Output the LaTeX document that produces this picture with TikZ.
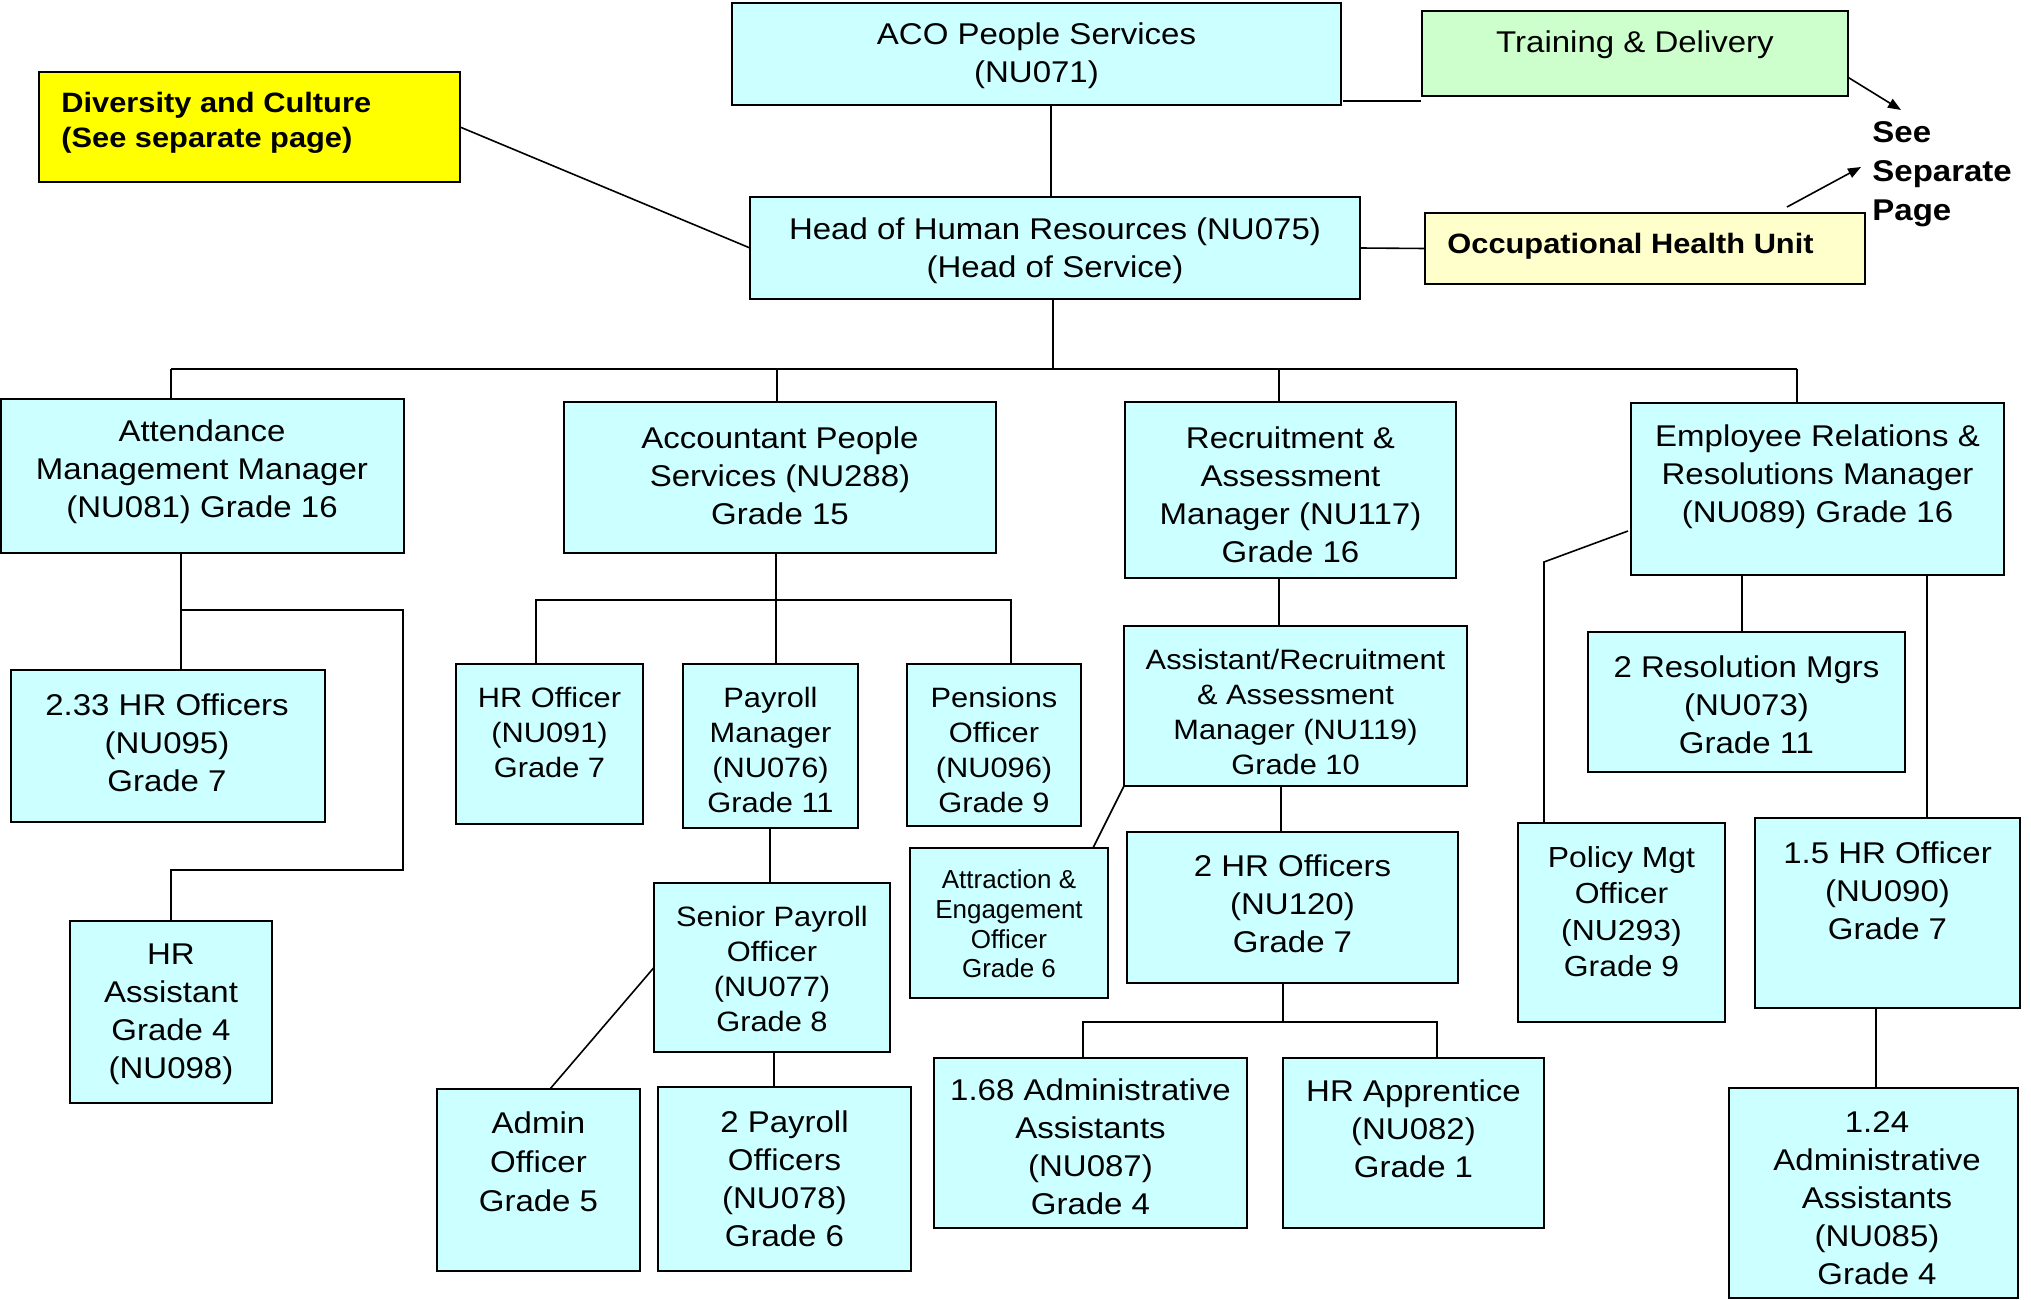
\documentclass[tikz,border=0pt]{standalone}
\usepackage{fontspec}
\setmainfont{Liberation Sans}[FakeStretch=1.1]
\newfontfamily\plainsans{Liberation Sans}
\usetikzlibrary{calc,arrows.meta}
\definecolor{cyanbox}{HTML}{CCFFFF}
\definecolor{greenbox}{HTML}{CCFFCC}
\definecolor{yelbox}{HTML}{FFFF00}
\definecolor{lyelbox}{HTML}{FFFFCC}
\tikzset{
  box/.style={draw=black, line width=1.1pt, fill=cyanbox, inner sep=0pt, outer sep=0pt},
  txt/.style={align=center, inner sep=0pt, font=\fontsize{15}{19}\selectfont},
  txts/.style={align=center, inner sep=0pt, font=\fontsize{14}{17.5}\selectfont},
  txtb/.style={align=left, inner sep=0pt, anchor=west, font=\bfseries\fontsize{14}{17.5}\selectfont},
  conn/.style={draw=black, line width=0.8pt},
  arr/.style={conn, -{Triangle[length=6.5pt,width=5pt]}},
}
\newcommand{\pbox}[6][]{%
  \node[box, #1, minimum width={(#5-#3)*0.5pt}, minimum height={(#6-#4)*0.5pt}] (#2) at ({(#3+#5)/2},{(#4+#6)/2}) {};}
\begin{document}
\begin{tikzpicture}[x=0.5pt, y=-0.5pt]
\fill[white] (0,0) rectangle (2031,1300);
\useasboundingbox (0,0) rectangle (2031,1300);

% ---------- boxes ----------
\pbox{aco}{732}{3}{1341}{105}
\pbox[fill=greenbox]{train}{1422}{11}{1848}{96}
\pbox[fill=yelbox]{div}{39}{72}{460}{182}
\pbox{head}{750}{197}{1360}{299}
\pbox[fill=lyelbox]{ohu}{1425}{213}{1865}{284}

\pbox{att}{1}{399}{404}{553}
\pbox{acc}{564}{402}{996}{553}
\pbox{rec}{1125}{402}{1456}{578}
\pbox{er}{1631}{403}{2004}{575}

\pbox{hro233}{11}{670}{325}{822}
\pbox{hra}{70}{921}{272}{1103}

\pbox{hro}{456}{664}{643}{824}
\pbox{pm}{683}{664}{858}{828}
\pbox{pens}{907}{664}{1081}{826}
\pbox{spo}{654}{883}{890}{1052}
\pbox{admin}{437}{1089}{640}{1271}
\pbox{pay2}{658}{1087}{911}{1271}

\pbox{arm}{1124}{626}{1467}{786}
\pbox{attr}{910}{848}{1108}{998}
\pbox{hro2}{1127}{832}{1458}{983}
\pbox{adm168}{934}{1058}{1247}{1228}
\pbox{appr}{1283}{1058}{1544}{1228}

\pbox{res2}{1588}{632}{1905}{772}
\pbox{pmo}{1518}{823}{1725}{1022}
\pbox{hro15}{1755}{818}{2020}{1008}
\pbox{adm124}{1729}{1088}{2018}{1298}

% ---------- texts ----------
\node[txt] (aco-t) at (1036.5,55.5) {ACO People Services\\(NU071)};
\node[txt] (train-t) at (1635,44.5) {Training \& Delivery};
\node[txtb] (div-t) at (61,123) {Diversity and Culture\\(See separate page)};
\node[txt] (head-t) at (1055,250.5) {Head of Human Resources (NU075)\\(Head of Service)};
\node[txtb] (ohu-t) at (1447,246.5) {Occupational Health Unit};
\node[txtb, font=\bfseries\fontsize{15}{19.5}\selectfont] (see-t) at (1872,174) {See\\Separate\\Page};

\node[txt] (att-t) at (202,472) {Attendance\\Management Manager\\(NU081) Grade 16};
\node[txt] (acc-t) at (780,475.5) {Accountant People\\Services (NU288)\\Grade 15};
\node[txt] (rec-t) at (1290.5,494.6) {Recruitment \&\\Assessment\\Manager (NU117)\\Grade 16};
\node[txt] (er-t) at (1817.5,477) {Employee Relations \&\\Resolutions Manager\\(NU089) Grade 16};

\node[txt] (hro233-t) at (167,743) {2.33 HR Officers\\(NU095)\\Grade 7};
\node[txt] (hra-t) at (171,1014) {HR\\Assistant\\Grade 4\\(NU098)};

\node[txts] (hro-t) at (549.5,732) {HR Officer\\(NU091)\\Grade 7};
\node[txts] (pm-t) at (770.5,749.7) {Payroll\\Manager\\(NU076)\\Grade 11};
\node[txts] (pens-t) at (994,749.7) {Pensions\\Officer\\(NU096)\\Grade 9};
\node[txts] (spo-t) at (772,968.7) {Senior Payroll\\Officer\\(NU077)\\Grade 8};
\node[txt, font=\fontsize{15}{19.5}\selectfont] (admin-t) at (538.5,1162) {Admin\\Officer\\Grade 5};
\node[txt] (pay2-t) at (784.5,1178.5) {2 Payroll\\Officers\\(NU078)\\Grade 6};

\node[txts] (arm-t) at (1295.5,712) {Assistant/Recruitment\\\& Assessment\\Manager (NU119)\\Grade 10};
\node[txt, font=\plainsans\fontsize{13}{14.8}\selectfont] (attr-t) at (1009,924) {Attraction \&\\Engagement\\Officer\\Grade 6};
\node[txt] (hro2-t) at (1292.5,904) {2 HR Officers\\(NU120)\\Grade 7};
\node[txt] (adm168-t) at (1090.5,1147) {1.68 Administrative\\Assistants\\(NU087)\\Grade 4};
\node[txt] (appr-t) at (1413.5,1128.6) {HR Apprentice\\(NU082)\\Grade 1};

\node[txt] (res2-t) at (1746.5,704.6) {2 Resolution Mgrs\\(NU073)\\Grade 11};
\node[txt, font=\fontsize{14.5}{18.3}\selectfont] (pmo-t) at (1621.5,911.7) {Policy Mgt\\Officer\\(NU293)\\Grade 9};
\node[txt] (hro15-t) at (1887.5,891) {1.5 HR Officer\\(NU090)\\Grade 7};
\node[txt] (adm124-t) at (1877,1197.8) {1.24\\Administrative\\Assistants\\(NU085)\\Grade 4};

% ---------- connectors: top ----------
\draw[conn] ($(aco.south east)+(2,-4)$) -- ($(train.south west)+(-1,5)$);
\coordinate (xA) at (1051,150);
\draw[conn] (xA |- aco.south) -- (xA |- head.north);
\draw[conn] (div.east) -- (head.west);
\draw[conn] (head.east) -- (ohu.west);
\coordinate (seeT) at (1901,110);
\coordinate (seeS) at (1861,167);
\draw[arr] ($(train.north east)!0.78!(train.south east)$) -- (seeT);
\draw[arr] ($(ohu.north east)+(-78,-6)$) -- (seeS);

% ---------- main bus ----------
\coordinate (busL) at (171,369);
\coordinate (busR) at (1797,369);
\coordinate (jHR) at (1053,369);
\coordinate (b2) at (777,369);
\coordinate (b3) at (1279,369);
\draw[conn] (busL) -- (busR);
\draw[conn] (jHR |- head.south) -- (jHR);
\draw[conn] (busL) -- (busL |- att.north);
\draw[conn] (b2) -- (b2 |- acc.north);
\draw[conn] (b3) -- (b3 |- rec.north);
\draw[conn] (busR) -- (busR |- er.north);

% ---------- attendance ----------
\coordinate (a1) at (181,610);
\coordinate (a2) at (403,610);
\coordinate (a3) at (403,870);
\coordinate (a4) at (171,870);
\draw[conn] (a1 |- att.south) -- (a1 |- hro233.north);
\draw[conn] (a1) -- (a2) -- (a3) -- (a4) -- (a4 |- hra.north);

% ---------- accountant ----------
\coordinate (c0) at (776,600);
\coordinate (c1) at (536,600);
\coordinate (c2) at (1011,600);
\coordinate (c3) at (770,850);
\coordinate (c4) at (774,1070);
\draw[conn] (c0 |- acc.south) -- (c0 |- pm.north);
\draw[conn] (c1 |- hro.north) -- (c1) -- (c2) -- (c2 |- pens.north);
\draw[conn] (c3 |- pm.south) -- (c3 |- spo.north);
\draw[conn] (c4 |- spo.south) -- (c4 |- pay2.north);
\draw[conn] (spo.west) -- ($(admin.north)+(11.5,0)$);

% ---------- recruitment ----------
\coordinate (r1) at (1279,600);
\coordinate (r2) at (1281,800);
\coordinate (r3) at (1283,1022);
\coordinate (r4) at (1083,1022);
\coordinate (r5) at (1437,1022);
\draw[conn] (r1 |- rec.south) -- (r1 |- arm.north);
\draw[conn] (arm.south west) -- ($(attr.north east)+(-15,0)$);
\draw[conn] (r2 |- arm.south) -- (r2 |- hro2.north);
\draw[conn] (r3 |- hro2.south) -- (r3);
\draw[conn] (r4 |- adm168.north) -- (r4) -- (r5) -- (r5 |- appr.north);

% ---------- employee relations ----------
\coordinate (e1) at (1544,562);
\coordinate (e2) at (1742,600);
\coordinate (e3) at (1927,700);
\coordinate (e4) at (1876,1050);
\draw[conn] ($(er.south west)+(-3,-44)$) -- (e1) -- (e1 |- pmo.north);
\draw[conn] (e2 |- er.south) -- (e2 |- res2.north);
\draw[conn] (e3 |- er.south) -- (e3 |- hro15.north);
\draw[conn] (e4 |- hro15.south) -- (e4 |- adm124.north);
\end{tikzpicture}
\end{document}
